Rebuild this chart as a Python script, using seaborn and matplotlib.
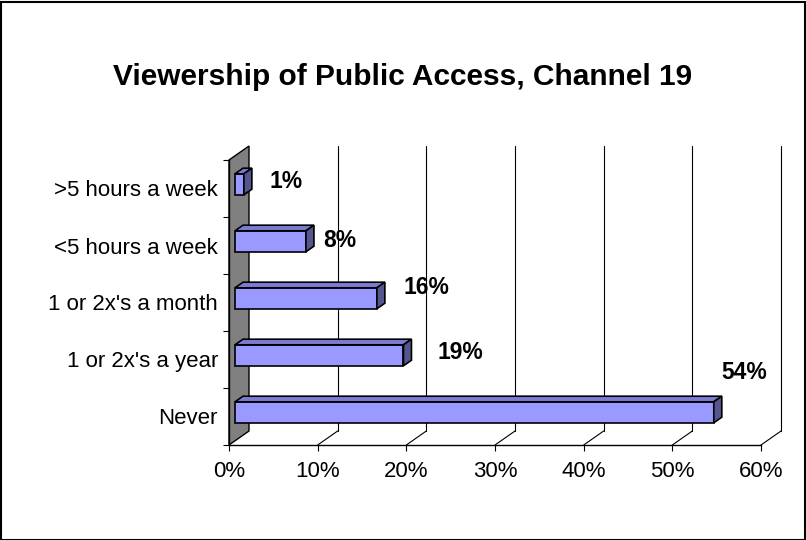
import matplotlib
matplotlib.use("Agg")
import matplotlib.pyplot as plt
import seaborn as sns
import pandas as pd
from matplotlib.patches import Polygon, Rectangle

categories = [">5 hours a week", "<5 hours a week", "1 or 2x's a month",
              "1 or 2x's a year", "Never"]
values = [1, 8, 16, 19, 54]
value_labels = ["1%", "8%", "16%", "19%", "54%"]
xticks = [0, 10, 20, 30, 40, 50, 60]
xtick_labels = ["0%", "10%", "20%", "30%", "40%", "50%", "60%"]
title = "Viewership of Public Access, Channel 19"

# label offsets from bar end (pixels) -- layout only
label_offsets = [(42, 3), (34, 1), (50, 11), (57, 3), (30, 40)]

df = pd.DataFrame({"cat": categories, "val": values})

sns.set_theme(style="white")
plt.rcParams["font.family"] = ["Liberation Sans", "DejaVu Sans"]
for k in ["text.color", "axes.labelcolor", "xtick.color", "ytick.color"]:
    plt.rcParams[k] = "black"

W, H = 806, 540
fig = plt.figure(figsize=(W / 100, H / 100), dpi=100)
ax = fig.add_axes([229 / W, 1 - 445 / H, 532 / W, 285 / H])

FRONT = "#9999FF"
TOP = "#7C7CD6"
SIDE = "#55558F"
bar_h = 21 / 57

sns.barplot(data=df, x="val", y="cat", orient="h", color=FRONT, width=bar_h,
            edgecolor="black", linewidth=1.2, saturation=1, ax=ax, zorder=5)

ax.set_xlim(0, 60)
ax.set_ylim(len(categories) - 0.5, -0.5)

# depth vector (full depth) in data units
px_x = 532 / 60.0
px_y = 57.0
DX = 20 / px_x
DY = -14 / px_y

# back wall
wall = Polygon([(0, -0.5), (DX, -0.5 + DY), (DX, 4.5 + DY), (0, 4.5)],
               closed=True, facecolor="#808080", edgecolor="black",
               linewidth=1, clip_on=False, zorder=1)
ax.add_patch(wall)

# gridlines at back plane + floor diagonals
for t in xticks[1:]:
    ax.plot([t + DX, t + DX], [-0.5 + DY, 4.5 + DY], color="black", lw=0.8,
            clip_on=False, zorder=1)
    ax.plot([t, t + DX], [4.5, 4.5 + DY], color="black", lw=0.8,
            clip_on=False, zorder=1)

# 3D bar faces
f0, f1 = 0.3, 0.7
bars = [p for p in ax.patches if isinstance(p, Rectangle)]
for p in bars:
    x0, y0 = p.get_x(), p.get_y()
    w, h = p.get_width(), p.get_height()
    x0 += DX * f0
    y0 += DY * f0
    p.set_x(x0)
    p.set_y(y0)
    p.set_clip_on(False)
    ddx, ddy = DX * (f1 - f0), DY * (f1 - f0)
    top = Polygon([(x0, y0), (x0 + ddx, y0 + ddy), (x0 + w + ddx, y0 + ddy),
                   (x0 + w, y0)], closed=True, facecolor=TOP,
                  edgecolor="black", linewidth=1.2, zorder=5, clip_on=False)
    side = Polygon([(x0 + w, y0), (x0 + w + ddx, y0 + ddy),
                    (x0 + w + ddx, y0 + h + ddy), (x0 + w, y0 + h)],
                   closed=True, facecolor=SIDE, edgecolor="black",
                   linewidth=1.2, zorder=5, clip_on=False)
    ax.add_patch(top)
    ax.add_patch(side)

for i, (p, lab) in enumerate(zip(bars, value_labels)):
    xe = p.get_x() + p.get_width()
    yc = p.get_y() + p.get_height() / 2
    ox, oy = label_offsets[i]
    ax.annotate(lab, (xe, yc), xytext=(ox, oy), textcoords="offset pixels",
                ha="center", va="center", fontsize=16.5, fontweight="bold",
                color="black", zorder=6, annotation_clip=False)

# axes styling
for s in ["top", "right"]:
    ax.spines[s].set_visible(False)
for s in ["left", "bottom"]:
    ax.spines[s].set_linewidth(1)
    ax.spines[s].set_color("black")
ax.spines["left"].set_zorder(2)

ax.set_xticks(xticks)
ax.set_xticklabels(xtick_labels, fontsize=16)
ax.set_yticks(range(len(categories)))
ax.set_yticklabels(categories, fontsize=16)
ax.set_yticks([k - 0.5 for k in range(len(categories) + 1)], minor=True)
ax.tick_params(axis="y", which="major", length=0, pad=8)
ax.tick_params(axis="y", which="minor", length=4.5, width=0.8, color="black",
               direction="out", left=True)
ax.tick_params(axis="x", which="major", length=4.5, width=0.8, color="black",
               direction="out", bottom=True, pad=7)
ax.set_xlabel("")
ax.set_ylabel("")
ax.grid(False)
ax.set_facecolor("none")

fig.text(403 / W, 1 - 77 / H, title, ha="center", va="center",
         fontsize=21.5, fontweight="bold")

fig.patches.append(Rectangle((0.5 / W, 0.5 / H), (W - 2) / W, (H - 2) / H,
                             transform=fig.transFigure, fill=False,
                             edgecolor="black", linewidth=1.5))

fig.savefig("out.png", dpi=100)
